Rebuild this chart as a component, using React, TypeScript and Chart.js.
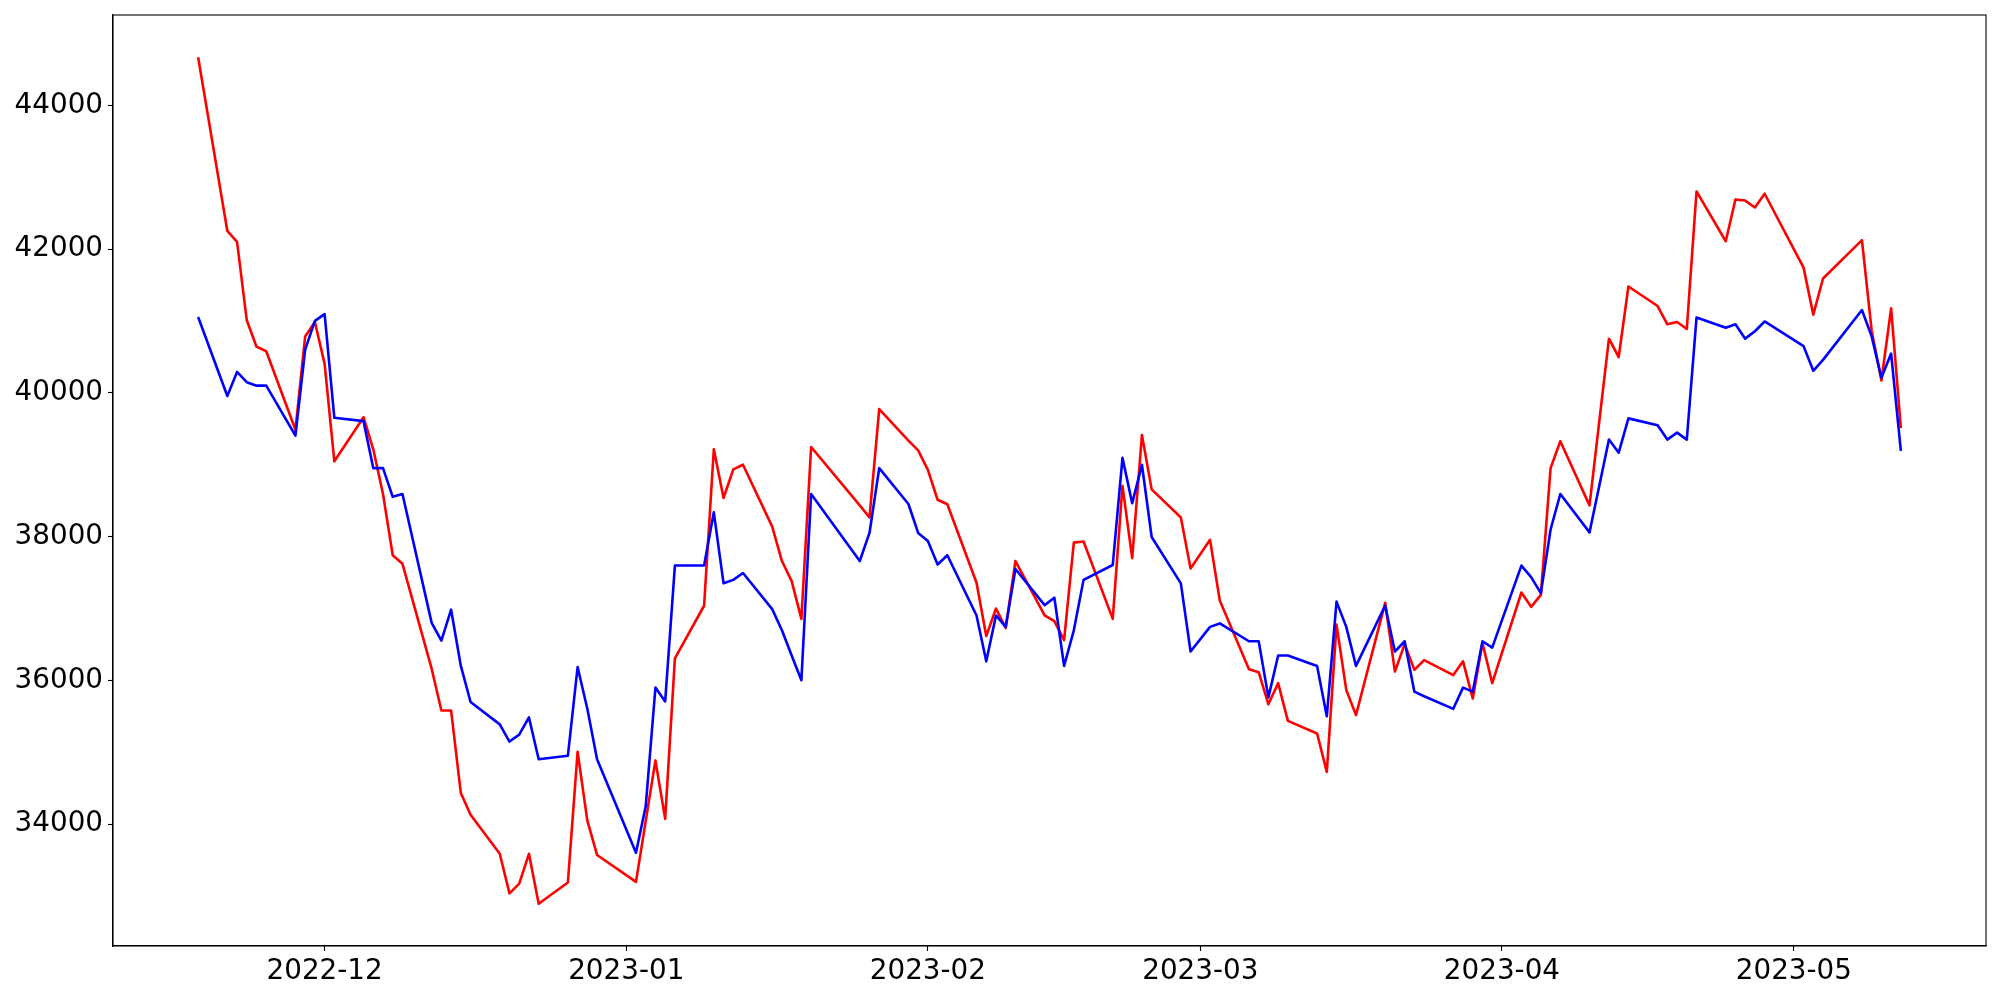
import React, { useEffect, useRef } from "react";
import { Chart, registerables } from "chart.js";

Chart.register(...registerables);

const dates = [
  "2022-11-18", "2022-11-21", "2022-11-22", "2022-11-23", "2022-11-24", "2022-11-25", "2022-11-28", "2022-11-29", "2022-11-30",
  "2022-12-01", "2022-12-02", "2022-12-05", "2022-12-06", "2022-12-07", "2022-12-08", "2022-12-09", "2022-12-12", "2022-12-13",
  "2022-12-14", "2022-12-15", "2022-12-16", "2022-12-19", "2022-12-20", "2022-12-21", "2022-12-22", "2022-12-23", "2022-12-26",
  "2022-12-27", "2022-12-28", "2022-12-29",
  "2023-01-02", "2023-01-03", "2023-01-04", "2023-01-05", "2023-01-06", "2023-01-09", "2023-01-10", "2023-01-11", "2023-01-12",
  "2023-01-13", "2023-01-16", "2023-01-17", "2023-01-18", "2023-01-19", "2023-01-20", "2023-01-25", "2023-01-26", "2023-01-27",
  "2023-01-30", "2023-01-31",
  "2023-02-01", "2023-02-02", "2023-02-03", "2023-02-06", "2023-02-07", "2023-02-08", "2023-02-09", "2023-02-10", "2023-02-13",
  "2023-02-14", "2023-02-15", "2023-02-16", "2023-02-17", "2023-02-20", "2023-02-21", "2023-02-22", "2023-02-23", "2023-02-24",
  "2023-02-27", "2023-02-28",
  "2023-03-02", "2023-03-03", "2023-03-06", "2023-03-07", "2023-03-08", "2023-03-09", "2023-03-10", "2023-03-13", "2023-03-14",
  "2023-03-15", "2023-03-16", "2023-03-17", "2023-03-20", "2023-03-21", "2023-03-22", "2023-03-23", "2023-03-24", "2023-03-27",
  "2023-03-28", "2023-03-29", "2023-03-30", "2023-03-31",
  "2023-04-03", "2023-04-04", "2023-04-05", "2023-04-06", "2023-04-07", "2023-04-10", "2023-04-11", "2023-04-12", "2023-04-13",
  "2023-04-14", "2023-04-17", "2023-04-18", "2023-04-19", "2023-04-20", "2023-04-21", "2023-04-24", "2023-04-25", "2023-04-26",
  "2023-04-27", "2023-04-28",
  "2023-05-02", "2023-05-03", "2023-05-04", "2023-05-08", "2023-05-09", "2023-05-10", "2023-05-11", "2023-05-12",
];

const redValues = [
  44670, 42254, 42103, 41011, 40644, 40580, 39488, 40787, 40987,
  40405, 39050, 39663, 39217, 38595, 37742, 37623, 36164, 35582,
  35582, 34434, 34131, 33589, 33039, 33174, 33589, 32895, 33190,
  35008, 34051, 33573,
  33198, 34043, 34888, 34075, 36307, 37040, 39217, 38539, 38938,
  39002, 38141, 37662, 37383, 36857, 39249, 38436, 38268, 39775,
  39337, 39201,
  38930, 38515, 38452, 37359, 36618, 37001, 36730, 37662, 36905,
  36825, 36562, 37918, 37933, 36857, 38707, 37702, 39416, 38659,
  38268, 37559,
  37957, 37112, 36156, 36116, 35669, 35964, 35438, 35263, 34729,
  36778, 35869, 35518, 37081, 36124, 36506, 36148, 36283, 36076,
  36267, 35749, 36522, 35964,
  37224, 37025, 37192, 38954, 39329, 38436, 39600, 40755, 40500,
  41481, 41210, 40955, 40987, 40891, 42804, 42111, 42693, 42677,
  42581, 42772,
  41744, 41090, 41593, 42127, 40867, 40174, 41178, 39512,
];

const blueValues = [
  41058, 39958, 40293, 40150, 40102, 40102, 39408, 40604, 41003,
  41098, 39655, 39608, 38954, 38954, 38555, 38595, 36802, 36554,
  36985, 36203, 35701, 35390, 35151, 35247, 35486, 34904, 34952,
  36187, 35606, 34904,
  33604, 34250, 35901, 35709, 37599, 37599, 38340, 37352, 37400,
  37495, 36993, 36698, 36347, 36004, 38595, 37662, 38053, 38954,
  38456, 38053,
  37942, 37614, 37742, 36905, 36267, 36905, 36746, 37551, 37049,
  37152, 36203, 36698, 37400, 37607, 39097, 38467, 39002, 37997,
  37352, 36403,
  36746, 36794, 36546, 36546, 35765, 36347, 36347, 36203, 35502,
  37097, 36746, 36203, 37041, 36403, 36546, 35845, 35781, 35606,
  35901, 35845, 36546, 36458,
  37599, 37439, 37216, 38101, 38595, 38061, 38707, 39352, 39169,
  39647, 39552, 39352, 39448, 39352, 41050, 40907, 40955, 40756,
  40859, 40995,
  40652, 40309, 40460, 41154, 40787, 40213, 40548, 39193,
];

const xTickDates = ["2022-12-01", "2023-01-01", "2023-02-01", "2023-03-01", "2023-04-01", "2023-05-01"];
const xTickLabels = ["2022-12", "2023-01", "2023-02", "2023-03", "2023-04", "2023-05"];
const yTicks = [34000, 36000, 38000, 40000, 42000, 44000];

const toDay = (s: string) => {
  const [y, m, d] = s.split("-").map(Number);
  return Date.UTC(y, m - 1, d) / 86400000;
};

const framePlugin = {
  id: "frame",
  afterDraw(chart: any) {
    const { ctx, chartArea } = chart;
    const { left, top, right, bottom } = chartArea;
    ctx.save();
    ctx.strokeStyle = "#000";
    ctx.lineWidth = 1.1;
    ctx.strokeRect(left, top, right - left, bottom - top);
    ctx.restore();
  },
};

export default function App() {
  const canvasRef = useRef<HTMLCanvasElement | null>(null);

  useEffect(() => {
    if (!canvasRef.current) return;
    const days = dates.map(toDay);
    const xMinD = Math.min(...days);
    const xMaxD = Math.max(...days);
    const xr = xMaxD - xMinD;
    const allV = [...redValues, ...blueValues];
    const yMinD = Math.min(...allV);
    const yMaxD = Math.max(...allV);
    const yr = yMaxD - yMinD;
    const xTickDays = xTickDates.map(toDay);
    const font = { family: "'DejaVu Sans', sans-serif", size: 27.8 };

    const chart = new Chart(canvasRef.current, {
      type: "line",
      data: {
        datasets: [
          {
            label: "red",
            data: days.map((x, i) => ({ x, y: redValues[i] })),
            borderColor: "#ff0000",
            backgroundColor: "#ff0000",
            borderWidth: 2.6,
            pointRadius: 0,
            tension: 0,
            fill: false,
            order: 2,
            borderJoinStyle: "round",
          },
          {
            label: "blue",
            data: days.map((x, i) => ({ x, y: blueValues[i] })),
            borderColor: "#0000ff",
            backgroundColor: "#0000ff",
            borderWidth: 2.6,
            pointRadius: 0,
            tension: 0,
            fill: false,
            order: 1,
            borderJoinStyle: "round",
          },
        ],
      },
      options: {
        animation: false,
        responsive: false,
        maintainAspectRatio: false,
        devicePixelRatio: 1,
        layout: { padding: { left: 0, right: 14, top: 15, bottom: 0 } },
        plugins: {
          legend: { display: false },
          tooltip: { enabled: false },
        },
        scales: {
          x: {
            type: "linear",
            min: xMinD - 0.05 * xr,
            max: xMaxD + 0.05 * xr,
            afterBuildTicks: (scale: any) => {
              scale.ticks = xTickDays.map((v) => ({ value: v }));
            },
            afterFit: (scale: any) => {
              scale.height = 54;
              scale.paddingLeft = 0;
              scale.paddingRight = 0;
            },
            ticks: {
              autoSkip: false,
              maxRotation: 0,
              minRotation: 0,
              padding: 4,
              color: "#000",
              font,
              callback: (_v: any, i: number) => xTickLabels[i],
            },
            grid: {
              display: true,
              drawOnChartArea: false,
              drawTicks: true,
              tickLength: 5,
              tickColor: "#000",
              tickWidth: 1.1,
            },
            border: { display: true, color: "#000", width: 1.1 },
          },
          y: {
            type: "linear",
            min: yMinD - 0.05 * yr,
            max: yMaxD + 0.05 * yr,
            afterBuildTicks: (scale: any) => {
              scale.ticks = yTicks.map((v) => ({ value: v }));
            },
            afterFit: (scale: any) => {
              scale.width = 113;
              scale.paddingTop = 0;
              scale.paddingBottom = 0;
            },
            ticks: {
              autoSkip: false,
              padding: 5,
              color: "#000",
              font,
              callback: (v: any) => String(v),
            },
            grid: {
              display: true,
              drawOnChartArea: false,
              drawTicks: true,
              tickLength: 5,
              tickColor: "#000",
              tickWidth: 1.1,
            },
            border: { display: true, color: "#000", width: 1.1 },
          },
        },
      },
      plugins: [framePlugin],
    } as any);

    return () => chart.destroy();
  }, []);

  return (
    <div style={{ position: "fixed", left: 0, top: 0, width: 2000, height: 1000, background: "#fff" }}>
      <canvas ref={canvasRef} width={2000} height={1000} style={{ display: "block", width: 2000, height: 1000 }} />
    </div>
  );
}
